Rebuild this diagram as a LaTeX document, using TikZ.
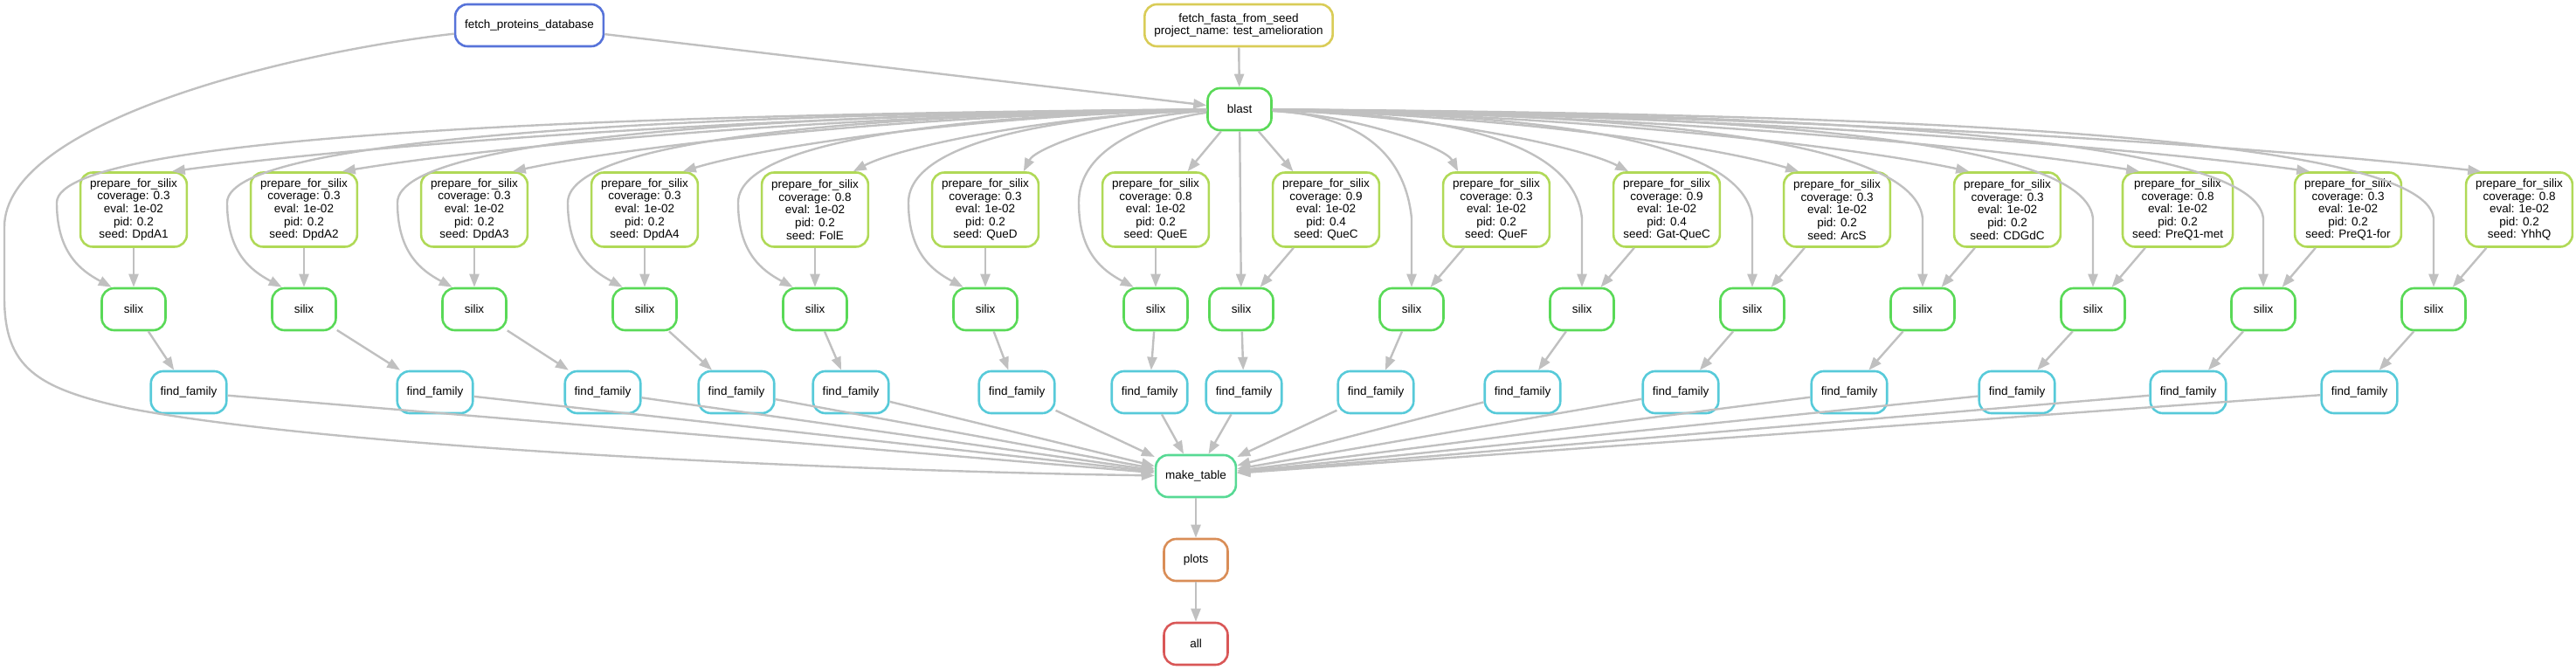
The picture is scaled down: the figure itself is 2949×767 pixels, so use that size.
\documentclass[tikz,border=0pt]{standalone}
\usepackage{fontspec}
\setmainfont{Liberation Sans}
\usetikzlibrary{arrows.meta}

\definecolor{linkgray}{RGB}{192,192,192}
\definecolor{fpdblue}{RGB}{87,115,217}
\definecolor{ffsyellow}{RGB}{217,204,87}
\definecolor{blastgreen}{RGB}{89,217,87}
\definecolor{pfsolive}{RGB}{176,217,87}
\definecolor{ffcyan}{RGB}{87,202,217}
\definecolor{mtteal}{RGB}{87,217,148}
\definecolor{ptorange}{RGB}{217,141,87}
\definecolor{allred}{RGB}{217,87,87}

\begin{document}
\begin{tikzpicture}[
  ruleblock/.style = {rectangle, draw = #1, line width = 2.6pt, rounded corners = 14pt, inner xsep = 11pt, inner ysep = 2pt, align = center, minimum width = 73pt, minimum height = 48pt, font = \fontsize{13.5}{14.6}\selectfont},
  paramblock/.style = {ruleblock = #1, minimum height = 85pt},
  link/.style = {draw = linkgray, line width = 2.4pt, -{Triangle[length = 15pt, width = 11pt]}},
  x = 1pt,
  y = -1pt
]
  \useasboundingbox (0, 0) rectangle (2949, 767);

  \node[ruleblock = fpdblue]    (fpd) at (606, 29) {fetch\_proteins\_database};
  \node[ruleblock = ffsyellow]  (ffs) at (1418, 29) {fetch\_fasta\_from\_seed\\project\_name: test\_amelioration};
  \node[ruleblock = blastgreen] (bl) at (1419, 125) {blast};

  \node[paramblock = pfsolive] (pfs1) at (153, 240) {prepare\_for\_silix\\coverage: 0.3\\eval: 1e-02\\pid: 0.2\\seed: DpdA1};
  \node[paramblock = pfsolive] (pfs2) at (348, 240) {prepare\_for\_silix\\coverage: 0.3\\eval: 1e-02\\pid: 0.2\\seed: DpdA2};
  \node[paramblock = pfsolive] (pfs3) at (543, 240) {prepare\_for\_silix\\coverage: 0.3\\eval: 1e-02\\pid: 0.2\\seed: DpdA3};
  \node[paramblock = pfsolive] (pfs4) at (738, 240) {prepare\_for\_silix\\coverage: 0.3\\eval: 1e-02\\pid: 0.2\\seed: DpdA4};
  \node[paramblock = pfsolive] (pfs5) at (933, 240) {prepare\_for\_silix\\coverage: 0.8\\eval: 1e-02\\pid: 0.2\\seed: FolE};
  \node[paramblock = pfsolive] (pfs6) at (1128, 240) {prepare\_for\_silix\\coverage: 0.3\\eval: 1e-02\\pid: 0.2\\seed: QueD};
  \node[paramblock = pfsolive] (pfs7) at (1323, 240) {prepare\_for\_silix\\coverage: 0.8\\eval: 1e-02\\pid: 0.2\\seed: QueE};
  \node[paramblock = pfsolive] (pfs8) at (1518, 240) {prepare\_for\_silix\\coverage: 0.9\\eval: 1e-02\\pid: 0.4\\seed: QueC};
  \node[paramblock = pfsolive] (pfs9) at (1713, 240) {prepare\_for\_silix\\coverage: 0.3\\eval: 1e-02\\pid: 0.2\\seed: QueF};
  \node[paramblock = pfsolive] (pfs10) at (1908, 240) {prepare\_for\_silix\\coverage: 0.9\\eval: 1e-02\\pid: 0.4\\seed: Gat-QueC};
  \node[paramblock = pfsolive] (pfs11) at (2103, 240) {prepare\_for\_silix\\coverage: 0.3\\eval: 1e-02\\pid: 0.2\\seed: ArcS};
  \node[paramblock = pfsolive] (pfs12) at (2298, 240) {prepare\_for\_silix\\coverage: 0.3\\eval: 1e-02\\pid: 0.2\\seed: CDGdC};
  \node[paramblock = pfsolive] (pfs13) at (2493, 240) {prepare\_for\_silix\\coverage: 0.8\\eval: 1e-02\\pid: 0.2\\seed: PreQ1-met};
  \node[paramblock = pfsolive] (pfs14) at (2688, 240) {prepare\_for\_silix\\coverage: 0.3\\eval: 1e-02\\pid: 0.2\\seed: PreQ1-for};
  \node[paramblock = pfsolive] (pfs15) at (2884, 240) {prepare\_for\_silix\\coverage: 0.8\\eval: 1e-02\\pid: 0.2\\seed: YhhQ};

  \foreach \i/\sx in {1/153, 2/348, 3/543, 4/738, 5/933, 6/1128, 7/1323, 8/1421,
                      9/1616, 10/1811, 11/2006, 12/2201, 13/2396, 14/2591, 15/2786}
    \node[ruleblock = blastgreen] (sx\i) at (\sx, 354) {silix};

  \foreach \i/\fx in {1/216, 2/498, 3/690, 4/843, 5/974, 6/1164, 7/1316, 8/1424,
                      9/1575, 10/1743, 11/1924, 12/2117, 13/2309, 14/2505, 15/2701}
    \node[ruleblock = ffcyan] (ff\i) at (\fx, 449) {find\_family};

  \node[ruleblock = mtteal]   (mt) at (1369, 545) {make\_table};
  \node[ruleblock = ptorange] (pt) at (1369, 641) {plots};
  \node[ruleblock = allred]   (all) at (1369, 737) {all};

  % inputs of blast
  \draw[link] (ffs) -- (bl);
  \draw[link] (fpd) -- (bl);
  \draw[link] (fpd) .. controls (330, 60) and (5, 140) .. (5, 260) -- (5, 340)
    .. controls (5, 420) and (40, 445) .. (150, 468)
    .. controls (400, 515) and (1000, 540) .. (mt);

  % blast to prepare_for_silix
  \foreach \i/\px in {1/153, 2/348, 3/543, 4/738, 5/933, 6/1128}
    \draw[link] (bl) .. controls ({\px+0.55*(1419-\px)}, 132) and ({\px+0.2*(1419-\px)}, 168) .. (pfs\i.45);
  \draw[link] (bl) -- (pfs7);
  \draw[link] (bl) -- (pfs8);
  \foreach \i/\px in {9/1713, 10/1908, 11/2103, 12/2298, 13/2493, 14/2688, 15/2884}
    \draw[link] (bl) .. controls ({\px+0.55*(1419-\px)}, 132) and ({\px+0.2*(1419-\px)}, 168) .. (pfs\i.135);

  % blast to silix
  \foreach \i/\sx in {1/153, 2/348, 3/543, 4/738, 5/933, 6/1128, 7/1323}
    \draw[link] (bl) .. controls ({(1419+\sx)/2}, 130) and (\sx-88, 150) .. (\sx-88, 232)
      .. controls (\sx-88, 290) and (\sx-60, 310) .. (sx\i.135);
  \draw[link] (bl) -- (sx8);
  \foreach \i/\sx in {9/1616, 10/1811, 11/2006, 12/2201, 13/2396, 14/2591, 15/2786}
    \draw[link] (bl) .. controls ({(1419+\sx)/2}, 130) and (\sx-10, 150) .. (\sx, 250) -- (sx\i.north);

  % one column per seed
  \foreach \i in {1,...,15} {
    \draw[link] (pfs\i) -- (sx\i);
    \draw[link] (sx\i) -- (ff\i);
    \draw[link] (ff\i) -- (mt);
  }

  \draw[link] (mt) -- (pt);
  \draw[link] (pt) -- (all);
\end{tikzpicture}
\end{document}
